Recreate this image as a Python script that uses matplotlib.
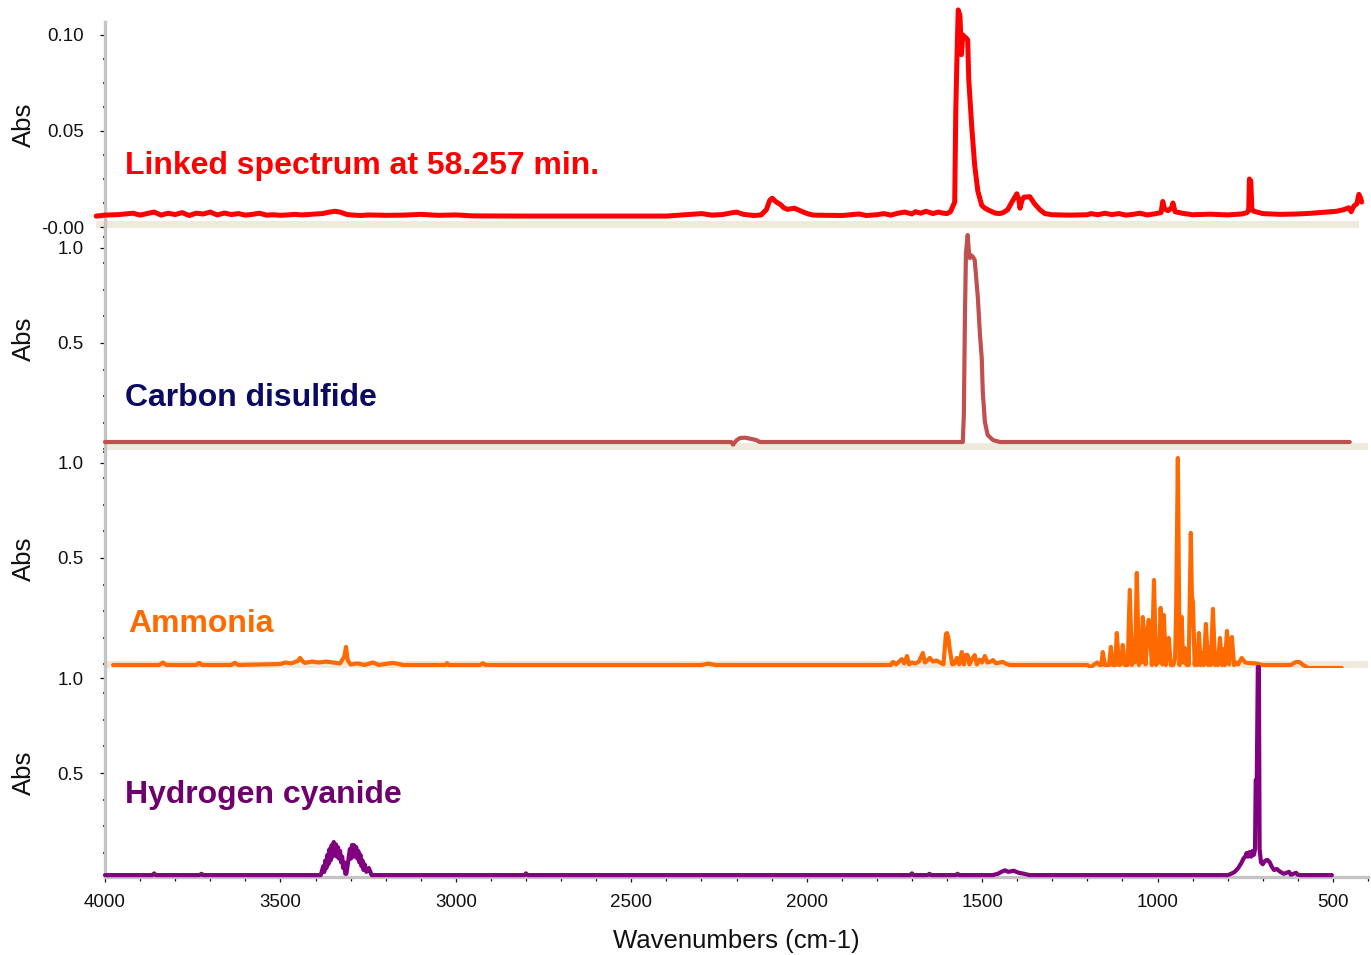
import matplotlib
matplotlib.use('Agg')
import matplotlib.pyplot as plt
from matplotlib.ticker import FixedLocator, FixedFormatter, MultipleLocator
from matplotlib.patches import Rectangle

plt.rcParams['font.family'] = ['Liberation Sans', 'DejaVu Sans']

# ---------------- data ----------------
linked_wn = [4025, 4000, 3960, 3920, 3900, 3880, 3860, 3840, 3820, 3800, 3780, 3760, 3740, 3720,
             3700, 3680, 3660, 3640, 3620, 3600, 3580, 3560, 3540, 3520, 3500, 3480, 3460, 3440,
             3420, 3400, 3380, 3360, 3345, 3330, 3310, 3290, 3270, 3250, 3200, 3150, 3100, 3050,
             3000, 2950, 2800, 2600, 2400, 2330, 2300, 2270, 2240, 2220, 2200, 2180, 2150, 2130,
             2115, 2105, 2098, 2090, 2082, 2075, 2065, 2055, 2045, 2035, 2025, 2010, 1995, 1980,
             1900, 1850, 1830, 1800, 1780, 1760, 1740, 1720, 1700, 1690, 1675, 1660, 1640, 1625,
             1610, 1600, 1590, 1583, 1578, 1575, 1572, 1568, 1563, 1559, 1555, 1550, 1546, 1541,
             1538, 1529, 1521, 1512, 1501, 1492, 1478, 1462, 1449, 1440, 1427, 1415, 1401, 1395,
             1392, 1386, 1381, 1364, 1350, 1335, 1321, 1300, 1250, 1200, 1190, 1170, 1150, 1130,
             1110, 1090, 1070, 1050, 1030, 1010, 990, 985, 980, 970, 960, 956, 950, 930, 900, 850,
             800, 760, 745, 740, 738, 734, 731, 725, 700, 650, 600, 560, 520, 490, 470, 455, 448,
             440, 432, 426, 421, 418]
linked_abs = [0.0057, 0.0062, 0.0065, 0.0072, 0.0062, 0.0070, 0.0078, 0.0062, 0.0072, 0.0065,
              0.0075, 0.0060, 0.0072, 0.0068, 0.0078, 0.0063, 0.0073, 0.0065, 0.0070, 0.0062,
              0.0066, 0.0072, 0.0062, 0.0064, 0.0061, 0.0063, 0.0066, 0.0063, 0.0065, 0.0068,
              0.0070, 0.0078, 0.0082, 0.0078, 0.0065, 0.0062, 0.0060, 0.0063, 0.0061, 0.0062,
              0.0066, 0.0061, 0.0063, 0.0058, 0.0057, 0.0057, 0.0057, 0.0066, 0.0070, 0.0062,
              0.0065, 0.0072, 0.0078, 0.0066, 0.0060, 0.0063, 0.0090, 0.0140, 0.0150, 0.0135,
              0.0125, 0.0118, 0.0100, 0.0092, 0.0095, 0.0098, 0.0090, 0.0078, 0.0068, 0.0062,
              0.0060, 0.0068, 0.0060, 0.0064, 0.0070, 0.0062, 0.0072, 0.0078, 0.0068, 0.0080,
              0.0072, 0.0082, 0.0070, 0.0078, 0.0072, 0.0070, 0.0080, 0.0110, 0.0130, 0.0600,
              0.0850, 0.1130, 0.1100, 0.0897, 0.1000, 0.0990, 0.0985, 0.0974, 0.0768, 0.0510,
              0.0320, 0.0186, 0.0113, 0.0098, 0.0085, 0.0072, 0.0070, 0.0075, 0.0090, 0.0130,
              0.0173, 0.0140, 0.0098, 0.0140, 0.0155, 0.0158, 0.0120, 0.0090, 0.0070, 0.0064,
              0.0062, 0.0064, 0.0070, 0.0064, 0.0072, 0.0065, 0.0070, 0.0062, 0.0066, 0.0072,
              0.0063, 0.0068, 0.0075, 0.0133, 0.0095, 0.0085, 0.0100, 0.0125, 0.0080, 0.0072,
              0.0064, 0.0067, 0.0063, 0.0068, 0.0075, 0.0085, 0.0250, 0.0240, 0.0090, 0.0082,
              0.0070, 0.0066, 0.0068, 0.0072, 0.0078, 0.0082, 0.0090, 0.0100, 0.0080, 0.0110,
              0.0120, 0.0170, 0.0150, 0.0130]

cs2_wn = [4000, 2215, 2210, 2200, 2190, 2176, 2160, 2145, 2133, 1560, 1555, 1552, 1549, 1546,
          1543, 1541, 1538, 1535, 1530, 1526, 1521, 1512, 1506, 1501, 1498, 1492, 1484, 1469,
          1449, 452]
cs2_abs = [-0.021, -0.021, -0.035, -0.012, 0.000, 0.002, -0.004, -0.010, -0.021, -0.021,
           -0.021, 0.121, 0.621, 0.974, 1.030, 1.068, 0.990, 0.947, 0.960, 0.953, 0.937, 0.737,
           0.542, 0.421, 0.242, 0.084, 0.016, -0.011, -0.021, -0.021]

ammonia_wn = [3977, 3845, 3835, 3825, 3740, 3732, 3724, 3640, 3630, 3620, 3500, 3485, 3470, 3450,
              3444, 3436, 3430, 3410, 3390, 3370, 3350, 3330, 3318, 3313, 3308, 3300, 3280, 3260,
              3236, 3220, 3179, 3150, 3030, 3025, 3020, 2930, 2923, 2915, 2300, 2280, 2260, 2240,
              1800, 1760, 1754, 1745, 1729, 1722, 1714, 1708, 1700, 1690, 1680, 1669, 1663, 1656,
              1649, 1640, 1630, 1620, 1610, 1603, 1600, 1596, 1592, 1585, 1578, 1572, 1565, 1558,
              1552, 1546, 1541, 1536, 1528, 1521, 1515, 1507, 1500, 1492, 1485, 1475, 1469, 1460,
              1450, 1441, 1430, 1421, 1200, 1190, 1182, 1172, 1165, 1160, 1156, 1150, 1138, 1133,
              1127, 1120, 1116, 1110, 1104, 1099, 1093, 1085, 1079, 1073, 1069, 1065, 1063, 1059,
              1053, 1049, 1046, 1042, 1036, 1034, 1028, 1025, 1019, 1016, 1010, 1004, 999, 996,
              991, 986, 982, 976, 972, 968, 962, 955, 950, 947, 942, 937, 934, 931, 927, 922, 917,
              914, 911, 905, 902, 899, 894, 890, 886, 882, 877, 872, 868, 862, 856, 852, 848, 842,
              836, 832, 828, 822, 816, 812, 808, 802, 796, 792, 788, 782, 775, 770, 760, 750, 740,
              720, 700, 620, 605, 595, 585, 570, 475]
ammonia_abs = [-0.063, -0.063, -0.050, -0.063, -0.063, -0.052, -0.063, -0.063, -0.052, -0.063,
               -0.058, -0.050, -0.055, -0.042, -0.026, -0.045, -0.052, -0.045, -0.050, -0.045,
               -0.050, -0.055, -0.020, 0.032, -0.040, -0.060, -0.055, -0.063, -0.050, -0.063,
               -0.052, -0.063, -0.063, -0.054, -0.063, -0.063, -0.054, -0.063, -0.063, -0.056,
               -0.063, -0.063, -0.063, -0.063, -0.047, -0.060, -0.032, -0.055, -0.016, -0.060,
               -0.050, -0.055, -0.045, 0.000, -0.050, -0.040, -0.026, -0.045, -0.040, -0.050,
               -0.060, 0.100, 0.105, 0.080, 0.016, -0.060, -0.055, -0.026, -0.060, 0.005, -0.060,
               -0.010, -0.011, -0.060, -0.030, -0.011, -0.060, -0.035, -0.050, -0.016, -0.050,
               -0.045, -0.037, -0.055, -0.050, -0.047, -0.058, -0.063, -0.063, -0.075, -0.063,
               -0.050, -0.063, -0.063, 0.005, -0.063, -0.063, 0.032, -0.063, -0.063, 0.105,
               -0.063, -0.060, 0.042, -0.063, -0.063, 0.332, -0.063, 0.070, -0.050, 0.050, 0.421,
               -0.063, 0.050, -0.050, 0.189, 0.050, -0.060, 0.120, 0.174, 0.030, -0.063, 0.384,
               -0.063, 0.050, -0.050, 0.237, -0.060, 0.200, -0.063, 0.020, 0.079, -0.063, -0.063,
               -0.030, 0.200, 1.026, -0.063, 0.050, 0.190, -0.050, 0.026, -0.063, 0.000, -0.063,
               0.632, 0.300, 0.268, -0.063, 0.020, -0.063, 0.105, -0.063, 0.000, -0.063, 0.153,
               -0.063, 0.030, -0.063, 0.232, -0.063, 0.000, -0.063, 0.079, -0.063, 0.020, -0.063,
               0.116, -0.060, 0.050, 0.084, -0.063, -0.050, -0.060, -0.026, -0.050, -0.053,
               -0.055, -0.063, -0.063, -0.047, -0.048, -0.063, -0.079, -0.079]

hcn_wn = [4000, 3865, 3860, 3855, 3730, 3725, 3720, 3385, 3378, 3375, 3372, 3369, 3366, 3363,
          3360, 3357, 3354, 3351, 3348, 3345, 3342, 3339, 3336, 3333, 3330, 3327, 3324, 3321,
          3318, 3315, 3312, 3308, 3305, 3302, 3299, 3296, 3293, 3290, 3287, 3284, 3281, 3278,
          3275, 3272, 3269, 3266, 3263, 3260, 3255, 3248, 3240, 2805, 2800, 2795, 1705, 1700,
          1695, 1655, 1650, 1645, 1575, 1570, 1565, 1470, 1455, 1445, 1435, 1425, 1410, 1395,
          1380, 1365, 800, 790, 780, 770, 760, 755, 750, 746, 742, 737, 733, 729, 725, 722, 720,
          717, 714, 711, 709, 705, 700, 695, 690, 686, 680, 675, 668, 660, 650, 640, 625, 620,
          605, 600, 590, 503]
hcn_abs = [-0.037, -0.037, -0.028, -0.037, -0.037, -0.030, -0.037, -0.037, 0.010, -0.020, 0.040,
           0.000, 0.070, 0.020, 0.100, 0.040, 0.120, 0.060, 0.137, 0.070, 0.125, 0.060, 0.110,
           0.050, 0.090, 0.030, 0.060, 0.000, 0.030, -0.030, -0.030, 0.020, 0.060, 0.100, 0.050,
           0.121, 0.060, 0.120, 0.060, 0.110, 0.050, 0.090, 0.030, 0.070, 0.010, 0.040, -0.010,
           0.020, -0.020, 0.000, -0.037, -0.037, -0.028, -0.037, -0.037, -0.028, -0.037, -0.037,
           -0.030, -0.037, -0.037, -0.030, -0.037, -0.037, -0.030, -0.020, -0.012, -0.020, -0.014,
           -0.025, -0.030, -0.037, -0.037, -0.030, -0.020, 0.000, 0.030, 0.050, 0.060, 0.079,
           0.060, 0.085, 0.060, 0.090, 0.070, 0.100, 0.463, 0.463, 1.058, 1.058, 0.100, 0.030,
           0.020, 0.035, 0.042, 0.042, 0.030, 0.010, -0.010, -0.005, -0.020, -0.030, -0.020,
           -0.035, -0.025, -0.035, -0.037, -0.037]

x_ticks = [4000, 3500, 3000, 2500, 2000, 1500, 1000, 500]
x_tick_labels = ['4000', '3500', '3000', '2500', '2000', '1500', '1000', '500']
p1_ticks = [0.0, 0.05, 0.10]
p1_tick_labels = ['-0.00', '0.05', '0.10']
norm_ticks = [0.5, 1.0]
norm_tick_labels = ['0.5', '1.0']
names = ['Linked spectrum at 58.257 min.', 'Carbon disulfide', 'Ammonia', 'Hydrogen cyanide']

# ---------------- layout ----------------
W, H = 1371, 955
fig = plt.figure(figsize=(W / 100, H / 100), dpi=100)
panels_px = [(22, 228), (228, 450), (450, 668), (668, 877)]
axes = []
for top, bot in panels_px:
    ax = fig.add_axes([105 / W, 1 - bot / H, 1263 / W, (bot - top) / H])
    axes.append(ax)

series = [
    (linked_wn, linked_abs, '#FF0000', 3.6, (-0.0005, 0.1067)),
    (cs2_wn, cs2_abs, '#C0504D', 3.0, (-0.063, 1.105)),
    (ammonia_wn, ammonia_abs, '#FF6A00', 3.0, (-0.079, 1.068)),
    (hcn_wn, hcn_abs, '#800080', 3.0, (-0.047, 1.053)),
]
text_style = [
    ('#FF0000', 0.262), ('#0A0A64', 0.198), ('#FF6A00', 0.165), ('#6E006E', 0.354)
]
tick_col = '#111111'
for i, ax in enumerate(axes):
    wn, ab, col, lw, ylim = series[i]
    ax.plot(wn, ab, color=col, lw=lw, clip_on=False, solid_joinstyle='round',
            solid_capstyle='round', zorder=3)
    ax.set_xlim(4000, 400)
    ax.set_ylim(*ylim)
    for s in ['top', 'right', 'bottom']:
        ax.spines[s].set_visible(False)
    ax.spines['left'].set_color('#C4C4C4')
    ax.spines['left'].set_linewidth(2.4)
    if i == 0:
        ax.yaxis.set_major_locator(FixedLocator(p1_ticks))
        ax.yaxis.set_major_formatter(FixedFormatter(p1_tick_labels))
        ax.yaxis.set_minor_locator(MultipleLocator(0.0125))
    else:
        ax.yaxis.set_major_locator(FixedLocator(norm_ticks))
        ax.yaxis.set_major_formatter(FixedFormatter(norm_tick_labels))
        ax.yaxis.set_minor_locator(FixedLocator([0.5 + 0.14 * k for k in range(-4, 5)]))
    ax.tick_params(axis='y', which='major', direction='out', length=3.8, width=0.9,
                   color=tick_col, pad=11.5, labelsize=13.5, labelcolor=tick_col)
    ax.tick_params(axis='y', which='minor', direction='out', length=1.6, width=1.2,
                   color=tick_col)
    ax.set_ylabel('Abs', fontsize=18.5, color=tick_col)
    ax.yaxis.set_label_coords(-0.0546, 0.5)
    if i < 3:
        ax.tick_params(axis='x', which='both', bottom=False, labelbottom=False)
        band_h = 7 / ((panels_px[i][1] - panels_px[i][0]))
        left = -0.007 if i == 0 else 0.0
        right = 0.993 if i == 0 else 1.0
        ax.add_patch(Rectangle((left, 0), right - left, band_h, transform=ax.transAxes,
                               facecolor='#EEEADE', edgecolor='none', clip_on=False, zorder=1))
    else:
        ax.spines['bottom'].set_visible(True)
        ax.spines['bottom'].set_color('#C4C4C4')
        ax.spines['bottom'].set_linewidth(2.4)
        ax.xaxis.set_major_locator(FixedLocator(x_ticks))
        ax.xaxis.set_major_formatter(FixedFormatter(x_tick_labels))
        ax.xaxis.set_minor_locator(MultipleLocator(100))
        ax.tick_params(axis='x', which='major', direction='out', length=3.8, width=0.9,
                       color=tick_col, pad=8.5, labelsize=13.5, labelcolor=tick_col)
        ax.tick_params(axis='x', which='minor', direction='out', length=3.2, width=0.9,
                       color=tick_col)
    tc, ty = text_style[i]
    ax.text(0.0158 if i != 2 else 0.0182, ty, names[i], transform=ax.transAxes, color=tc,
            fontsize=23, fontweight='bold', va='baseline', ha='left', zorder=5)

fig.text(736 / W, 1 - 941 / H, 'Wavenumbers (cm-1)', ha='center', va='center',
         fontsize=18.5, color=tick_col)

fig.savefig('out.png', dpi=100)
